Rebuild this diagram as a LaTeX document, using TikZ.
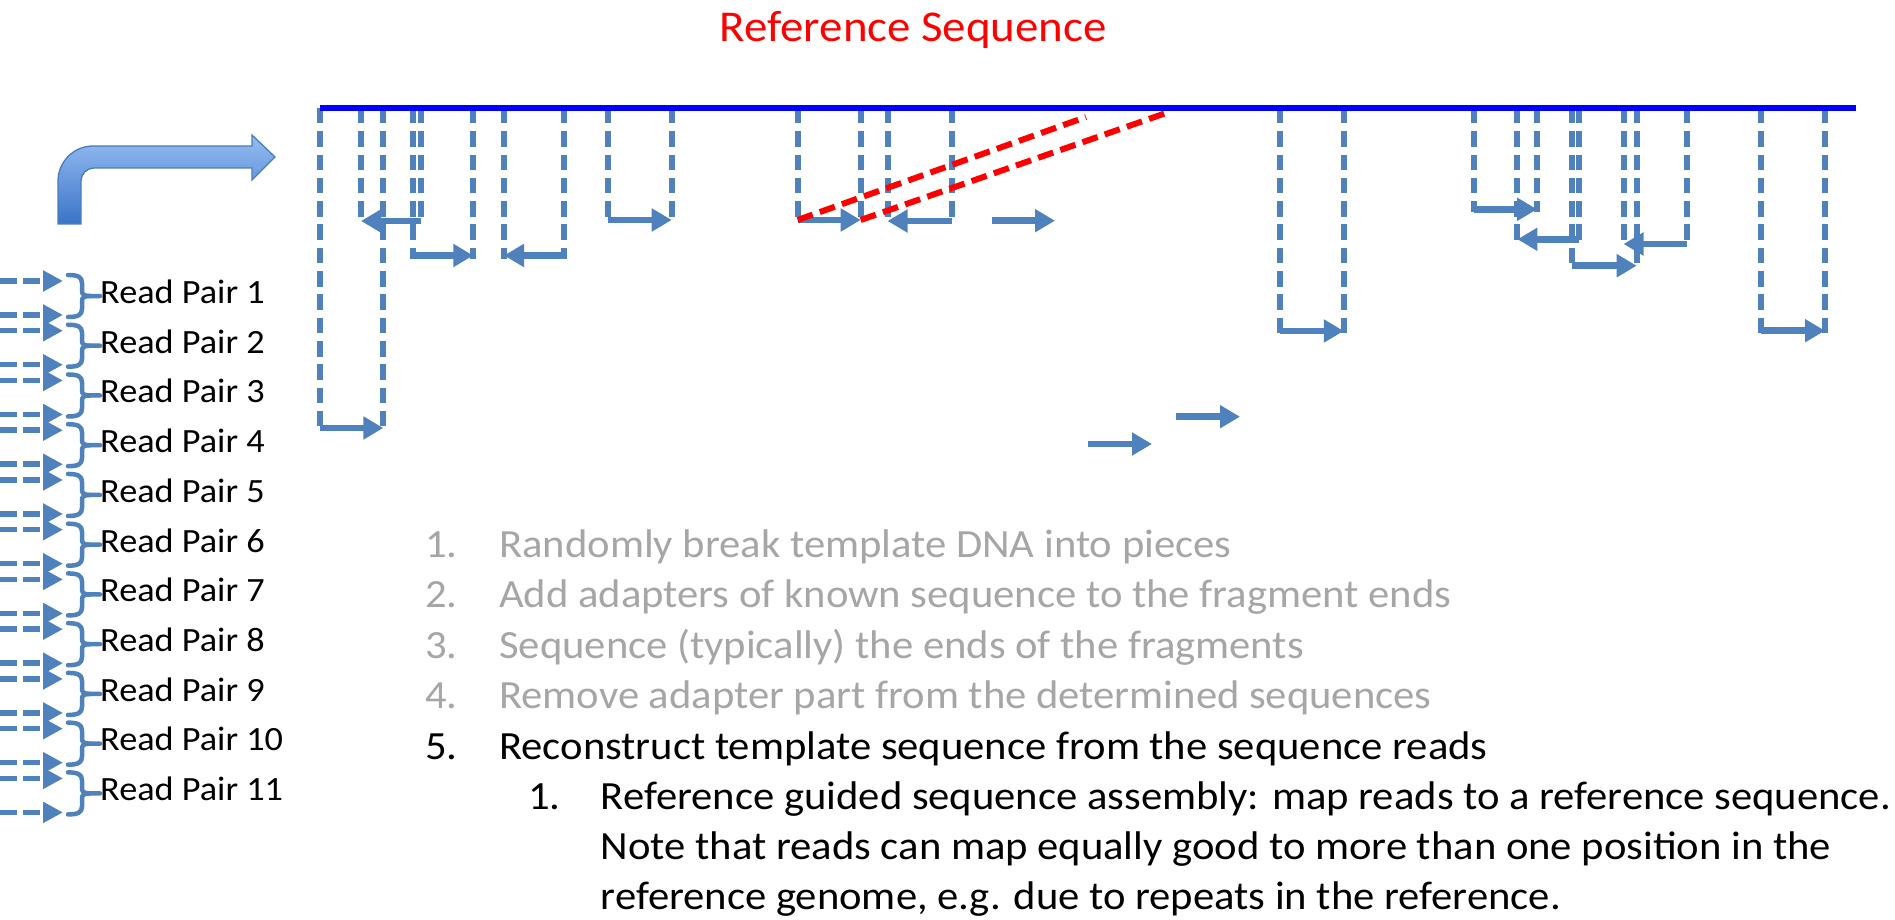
\documentclass[tikz,border=0pt]{standalone}
\usepackage{fontspec}
\setmainfont{Carlito}[FakeStretch=1.066]
\usetikzlibrary{arrows.meta}
\definecolor{acc}{HTML}{4F81BD}
\definecolor{refblue}{HTML}{0000FF}
\definecolor{gtext}{HTML}{A6A6A6}
\definecolor{bentborder}{HTML}{4A7EBB}
\definecolor{benttop}{RGB}{150,189,243}
\definecolor{bentbot}{RGB}{58,116,198}
\tikzset{
  vdash/.style={acc, line width=6pt, dash pattern=on 15.5pt off 7.8pt},
  readarrow/.style={acc, line width=6.5pt, -{Triangle[length=20pt,width=22pt]}},
  leftread/.style={acc, line width=5.5pt, dash pattern=on 17pt off 6pt, -{Triangle[length=20pt,width=20pt]}},
  bracestyle/.style={acc, line width=4.5pt, line cap=round, line join=round},
  redline/.style={red, line width=6pt, dash pattern=on 16pt off 7.5pt},
  rplabel/.style={anchor=base west, inner sep=0pt, font=\fontsize{34}{40}\selectfont},
  listitem/.style={anchor=base west, inner sep=0pt, font=\fontsize{40}{48}\selectfont},
  titlestyle/.style={anchor=base, inner sep=0pt, text=red, font=\fontsize{44}{52}\selectfont}
}
\newcommand{\rpair}[4]{%
  \coordinate (#1s) at (#2,108);
  \coordinate (#1e) at (#3,108);
  \coordinate (#1a) at (#2,#4+3);
  \coordinate (#1b) at (#3,#4+3);
  \coordinate (#1p) at (#2,#4);
  \coordinate (#1q) at (#3,#4);
  \draw[vdash] (#1s) -- (#1a);
  \draw[vdash] (#1e) -- (#1b);
  \draw[readarrow] (#1p) -- (#1q);
}
\begin{document}
\begin{tikzpicture}[x=1pt,y=-1pt]
\fill[white] (0,0) rectangle (1895,920);
\useasboundingbox (0,0) rectangle (1895,920);

% title
\node[titlestyle] (title) at (913.3,41.7) {Reference Sequence};

% bent arrow
\shade[top color=benttop, bottom color=bentbot, draw=bentborder, line width=1.3pt, line join=miter]
  (58,224) -- (58,181) .. controls (58,161.7) and (73.7,146) .. (93,146)
  -- (252,146) -- (252,135) -- (275,157) -- (252,180) -- (252,168)
  -- (94,168) .. controls (86.8,168) and (81,173.8) .. (81,181) -- (81,224) -- cycle;

% read pairs mapped to reference
\rpair{A}{320}{383.3}{428}
\rpair{B}{420.7}{361}{221}
\rpair{C}{413.3}{473.3}{255.5}
\rpair{D}{563.7}{504}{255.5}
\rpair{E}{607.7}{671.7}{220}
\rpair{F}{797.6}{860.7}{220}
\rpair{G}{951.8}{887.5}{221}
\rpair{H}{1279.6}{1343.8}{331}
\rpair{I}{1474.2}{1537.1}{209.3}
\rpair{J}{1579.1}{1517.4}{239.3}
\rpair{K}{1571.7}{1636.7}{265.7}
\rpair{L}{1686.9}{1623.5}{244}
\rpair{M}{1760.9}{1825}{330.7}

% unmapped single reads
\coordinate (u1s) at (992,220.7);   \coordinate (u1e) at (1055,220.7);
\coordinate (u2s) at (1088,444);    \coordinate (u2e) at (1152,444);
\coordinate (u3s) at (1176,416.7);  \coordinate (u3e) at (1240,416.7);
\draw[readarrow] (u1s) -- (u1e);
\draw[readarrow] (u2s) -- (u2e);
\draw[readarrow] (u3s) -- (u3e);

% alternative mapping (red)
\coordinate (alt1) at (1086,117);
\coordinate (alt2) at (1166,113);
\draw[redline] (Fp) -- (alt1);
\draw[redline] (Fq) -- (alt2);

% reference line
\coordinate (refL) at (320,108);
\coordinate (refR) at (1856,108);
\draw[refblue, line width=5.5pt] (refL) -- (refR);

% read pairs list on the left
\foreach \i in {1,...,11} {
  \pgfmathsetmacro\yt{281+49.74*(\i-1)}
  \pgfmathsetmacro\yb{\yt+34}
  \pgfmathsetmacro\bt{\yt-6}
  \pgfmathsetmacro\bb{\yb+2}
  \pgfmathsetmacro\ym{(\bt+\bb)/2}
  \coordinate (lta\i) at (0,\yt);  \coordinate (ltb\i) at (63,\yt);
  \coordinate (lba\i) at (0,\yb);  \coordinate (lbb\i) at (63,\yb);
  \draw[leftread] (lta\i) -- (ltb\i);
  \draw[leftread] (lba\i) -- (lbb\i);
  \draw[bracestyle] (68,\bt) .. controls (78,\bt) and (82,\bt+2) .. (82,\bt+8)
     -- (82,\ym-5) .. controls (82,\ym-1.5) and (84,\ym) .. (90,\ym) -- (100,\ym);
  \draw[bracestyle] (90,\ym) .. controls (84,\ym) and (82,\ym+1.5) .. (82,\ym+5)
     -- (82,\bb-8) .. controls (82,\bb-2) and (78,\bb) .. (68,\bb);
  \node[rplabel] (rp\i) at (100,\ym+7.3) {Read Pair \i};
}

% numbered list
\node[listitem, text=gtext] (n1) at (425,557.5) {1.};
\node[listitem, text=gtext] (t1) at (499,557.5) {Randomly break template DNA into pieces};
\node[listitem, text=gtext] (n2) at (425,607.9) {2.};
\node[listitem, text=gtext] (t2) at (499,607.9) {Add adapters of known sequence to the fragment ends};
\node[listitem, text=gtext] (n3) at (425,658.3) {3.};
\node[listitem, text=gtext] (t3) at (499,658.3) {Sequence (typically) the ends of the fragments};
\node[listitem, text=gtext] (n4) at (425,708.7) {4.};
\node[listitem, text=gtext] (t4) at (499,708.7) {Remove adapter part from the determined sequences};
\node[listitem] (n5) at (425,759.1) {5.};
\node[listitem] (t5) at (499,759.1) {Reconstruct template sequence from the sequence reads};
\node[listitem] (n51) at (528,809.5) {1.};
\node[listitem] (t51) at (600.7,809.5) {Reference guided sequence assembly: map reads to a reference sequence.};
\node[listitem] (t52) at (600.7,859.9) {Note that reads can map equally good to more than one position in the};
\node[listitem] (t53) at (600.7,909.5) {reference genome, e.g. due to repeats in the reference.};
\end{tikzpicture}
\end{document}
